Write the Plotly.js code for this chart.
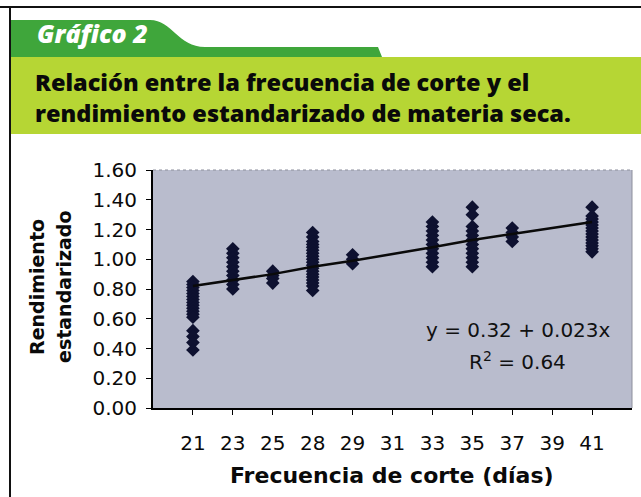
<!DOCTYPE html>
<html>
<head>
<meta charset="utf-8">
<script src="https://cdn.plot.ly/plotly-3.0.1.min.js"></script>
<style>
  html, body { margin: 0; padding: 0; background: #ffffff; }
  #chart { width: 641px; height: 497px; }
</style>
</head>
<body>
<div id="chart"></div>
<script>
// ---- Data ----
const tickLabels = ['21', '23', '25', '28', '29', '31', '33', '35', '37', '39', '41'];

const y21 = [0.85, 0.83, 0.81, 0.79, 0.77, 0.75, 0.73, 0.71, 0.69, 0.67, 0.65, 0.63, 0.61, 0.52, 0.48, 0.44, 0.39];
const y23 = [1.07, 1.04, 1.01, 0.98, 0.95, 0.92, 0.89, 0.86, 0.83, 0.80];
const y25 = [0.92, 0.89, 0.87, 0.84];
const y28 = [1.18, 1.15, 1.12, 1.10, 1.08, 1.06, 1.04, 1.02, 1.00, 0.98, 0.96, 0.94, 0.92, 0.90, 0.88, 0.86, 0.84, 0.82, 0.79];
const y29 = [1.03, 1.00, 0.97];
const y33 = [1.25, 1.22, 1.19, 1.16, 1.13, 1.10, 1.07, 1.04, 1.01, 0.98, 0.95];
const y35 = [1.35, 1.30, 1.22, 1.19, 1.16, 1.13, 1.10, 1.07, 1.04, 1.01, 0.98, 0.95];
const y37 = [1.21, 1.18, 1.15, 1.12];
const y41 = [1.35, 1.29, 1.27, 1.25, 1.23, 1.21, 1.19, 1.17, 1.15, 1.13, 1.11, 1.09, 1.07, 1.05];

const trendDays = ['21', '23', '25', '28', '29', '33', '35', '37', '41'];
const trendValues = [0.82, 0.86, 0.90, 0.95, 0.99, 1.08, 1.13, 1.17, 1.25];

const yTickValues = [0, 0.2, 0.4, 0.6, 0.8, 1.0, 1.2, 1.4, 1.6];

const headerLabel = 'Gráfico 2';
const titleLine1 = 'Relación entre la frecuencia de corte y el';
const titleLine2 = 'rendimiento estandarizado de materia seca.';
const yTitleLines = ['Rendimiento', 'estandarizado'];
const xTitle = 'Frecuencia de corte (días)';
const equationText = 'y = 0.32 + 0.023x';
const r2Text = 'R<sup>2</sup> = 0.64';

// ---- Build traces ----
const groups = [
  ['21', y21], ['23', y23], ['25', y25], ['28', y28], ['29', y29],
  ['33', y33], ['35', y35], ['37', y37], ['41', y41]
];
const px = [], py = [];
groups.forEach(([day, vals]) => { vals.forEach(v => { px.push(day); py.push(v); }); });

const W = 641, H = 497;
const M = { l: 153, r: 9, t: 170, b: 89 };
const plotW = W - M.l - M.r, plotH = H - M.t - M.b;
const fx = p => (p - M.l) / plotW;
const fy = p => (H - M.b - p) / plotH;

const traces = [
  {
    x: px, y: py, type: 'scatter', mode: 'markers',
    marker: { symbol: 'diamond', size: 10.5, color: '#0e1130' },
    hoverinfo: 'skip', showlegend: false
  },
  {
    x: trendDays, y: trendValues, type: 'scatter', mode: 'lines',
    line: { color: '#0a0a0a', width: 2.5 },
    hoverinfo: 'skip', showlegend: false
  }
];

const sans = 'DejaVu Sans, Liberation Sans, Arial, sans-serif';
const titleFont = 'Open Sans, Noto Sans, sans-serif';

const tabPath = `M ${fx(10)} ${fy(20)} L ${fx(150)} ${fy(20)} C ${fx(172)} ${fy(20)} ${fx(178)} ${fy(47)} ${fx(205)} ${fy(47)} L ${fx(378)} ${fy(47)} L ${fx(382)} ${fy(57)} L ${fx(10)} ${fy(57)} Z`;

const layout = {
  width: W, height: H,
  margin: M,
  paper_bgcolor: '#ffffff',
  plot_bgcolor: '#b9bccd',
  showlegend: false,
  xaxis: {
    type: 'category',
    categoryorder: 'array', categoryarray: tickLabels,
    tickvals: tickLabels, ticktext: tickLabels,
    range: [-1, 11],
    showgrid: false, zeroline: false,
    showline: true, linecolor: '#000', linewidth: 2,
    ticks: 'outside', ticklen: 5, tickcolor: '#000', tickwidth: 1,
    ticklabelstandoff: 11,
    tickfont: { family: sans, size: 20, color: '#0a0a0a' }
  },
  yaxis: {
    range: [0, 1.6],
    tickvals: yTickValues, tickformat: '.2f',
    showgrid: false, zeroline: false,
    showline: true, linecolor: '#000', linewidth: 2,
    ticks: 'outside', ticklen: 5, tickcolor: '#000', tickwidth: 1,
    ticklabelstandoff: 5,
    tickfont: { family: sans, size: 20, color: '#0a0a0a' }
  },
  shapes: [
    { type: 'rect', xref: 'paper', yref: 'paper', x0: fx(10), x1: fx(641), y0: fy(57), y1: fy(134),
      fillcolor: '#b6d634', line: { width: 0 }, layer: 'below' },
    { type: 'path', xref: 'paper', yref: 'paper', path: tabPath,
      fillcolor: '#3fa63b', line: { width: 0 }, layer: 'below' },
    { type: 'line', xref: 'paper', yref: 'paper', x0: fx(0), x1: fx(641), y0: fy(7), y1: fy(7),
      line: { color: '#111', width: 2 } },
    { type: 'line', xref: 'paper', yref: 'paper', x0: fx(10), x1: fx(10), y0: fy(7), y1: fy(497),
      line: { color: '#111', width: 2 } },
    { type: 'line', xref: 'paper', yref: 'paper', x0: 0, x1: 1, y0: 1, y1: 1,
      line: { color: '#8d8f9c', width: 1, dash: 'dot' } },
    { type: 'line', xref: 'paper', yref: 'paper', x0: 1, x1: 1, y0: 0, y1: 1,
      line: { color: '#8d8f9c', width: 1 } }
  ],
  annotations: [
    { text: '<i>' + headerLabel + '</i>', xref: 'paper', yref: 'paper',
      x: fx(35), y: fy(33), xanchor: 'left', yanchor: 'middle', showarrow: false,
      font: { family: titleFont, size: 25, weight: 800, color: '#ffffff' } },
    { text: titleLine1, xref: 'paper', yref: 'paper',
      x: fx(33), y: fy(82), xanchor: 'left', yanchor: 'middle', showarrow: false,
      font: { family: titleFont, size: 23.5, weight: 800, color: '#0a0a0a' } },
    { text: titleLine2, xref: 'paper', yref: 'paper',
      x: fx(33), y: fy(113), xanchor: 'left', yanchor: 'middle', showarrow: false,
      font: { family: titleFont, size: 23.5, weight: 800, color: '#0a0a0a' } },
    { text: '<b>' + yTitleLines[0] + '</b>', xref: 'paper', yref: 'paper',
      x: fx(37), y: fy(287), xanchor: 'center', yanchor: 'middle', textangle: -90, showarrow: false,
      font: { family: sans, size: 19, color: '#0a0a0a' } },
    { text: '<b>' + yTitleLines[1] + '</b>', xref: 'paper', yref: 'paper',
      x: fx(64), y: fy(287), xanchor: 'center', yanchor: 'middle', textangle: -90, showarrow: false,
      font: { family: sans, size: 19, color: '#0a0a0a' } },
    { text: '<b>' + xTitle + '</b>', xref: 'paper', yref: 'paper',
      x: fx(392), y: fy(475), xanchor: 'center', yanchor: 'middle', showarrow: false,
      font: { family: sans, size: 22, color: '#0a0a0a' } },
    { text: equationText, xref: 'paper', yref: 'paper',
      x: fx(518), y: fy(330), xanchor: 'center', yanchor: 'middle', showarrow: false,
      font: { family: sans, size: 20, color: '#111' } },
    { text: r2Text, xref: 'paper', yref: 'paper',
      x: fx(517), y: fy(361), xanchor: 'center', yanchor: 'middle', showarrow: false,
      font: { family: sans, size: 20, color: '#111' } }
  ]
};

Plotly.newPlot('chart', traces, layout, { staticPlot: true, displayModeBar: false });
</script>
</body>
</html>
